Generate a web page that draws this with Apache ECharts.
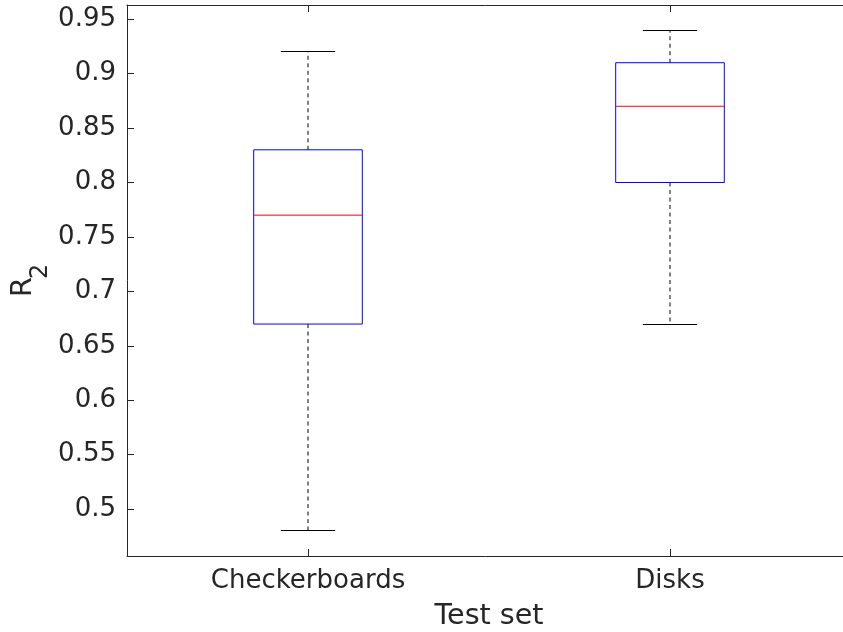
<!DOCTYPE html>
<html>
<head>
<meta charset="utf-8">
<script src="https://cdn.jsdelivr.net/npm/echarts@6/dist/echarts.min.js"></script>
<style>
  html, body { margin: 0; padding: 0; background: #ffffff; }
  #chart { width: 843px; height: 632px; }
</style>
</head>
<body>
<div id="chart"></div>
<script>
// ---- data ----
const categories = ['Checkerboards', 'Disks'];
const lowerWhisker = [0.48, 0.67];
const q1 = [0.67, 0.80];
const median = [0.77, 0.87];
const q3 = [0.83, 0.91];
const upperWhisker = [0.92, 0.94];
const yTickLabels = ['0.5', '0.55', '0.6', '0.65', '0.7', '0.75', '0.8', '0.85', '0.9', '0.95'];
const yRange = [0.457, 0.963];
const xLabel = 'Test set';
const yLabelMain = 'R';
const yLabelSub = '2';

const yTickValues = yTickLabels.map(Number);
const boxData = categories.map((c, i) => [i, lowerWhisker[i], q1[i], median[i], q3[i], upperWhisker[i]]);

const FONT = 'DejaVu Sans';
const TXT = '#262626';
const AX = '#262626';

const chart = echarts.init(document.getElementById('chart'), null, { renderer: 'canvas' });

function crisp(v) { return Math.round(v - 0.5) + 0.5; }

function renderItem(params, api) {
  const idx = api.value(0);
  const band = api.size([1, 0])[0];
  const boxHalf = band * 0.15;
  const capHalf = band * 0.075;
  const pLow = api.coord([idx, api.value(1)]);
  const pQ1 = api.coord([idx, api.value(2)]);
  const pMed = api.coord([idx, api.value(3)]);
  const pQ3 = api.coord([idx, api.value(4)]);
  const pHigh = api.coord([idx, api.value(5)]);
  const cx = pMed[0];
  const dash = { stroke: '#000000', lineWidth: 1, lineDash: [4, 3.5] };
  const solid = { stroke: '#000000', lineWidth: 1 };
  return {
    type: 'group',
    children: [
      { type: 'line', shape: { x1: cx, y1: pQ3[1], x2: cx, y2: pHigh[1] }, style: dash },
      { type: 'line', shape: { x1: cx, y1: pQ1[1], x2: cx, y2: pLow[1] }, style: dash },
      { type: 'line', shape: { x1: cx - capHalf, y1: crisp(pHigh[1]), x2: cx + capHalf, y2: crisp(pHigh[1]) }, style: solid },
      { type: 'line', shape: { x1: cx - capHalf, y1: crisp(pLow[1]), x2: cx + capHalf, y2: crisp(pLow[1]) }, style: solid },
      { type: 'rect', shape: { x: cx - boxHalf, y: pQ3[1], width: boxHalf * 2, height: pQ1[1] - pQ3[1] },
        style: { fill: 'none', stroke: '#0000ff', lineWidth: 1 } },
      { type: 'line', shape: { x1: cx - boxHalf, y1: pMed[1], x2: cx + boxHalf, y2: pMed[1] },
        style: { stroke: '#ff0000', lineWidth: 1 } }
    ]
  };
}

const option = {
  backgroundColor: '#ffffff',
  animation: false,
  grid: { left: 127, top: 5, width: 724, height: 551, containLabel: false, outerBoundsMode: 'none' },
  xAxis: [
    {
      type: 'category',
      data: categories,
      position: 'bottom',
      boundaryGap: true,
      axisLine: { show: true, lineStyle: { color: AX, width: 1 } },
      axisTick: { show: true, inside: true, length: 7, alignWithLabel: true, lineStyle: { color: AX } },
      axisLabel: { show: true, margin: 12, color: TXT, fontFamily: FONT, fontSize: 26 },
      splitLine: { show: false },
      name: xLabel,
      nameLocation: 'middle',
      nameGap: 46,
      nameTextStyle: { color: TXT, fontFamily: FONT, fontSize: 28.6 }
    },
    {
      type: 'category',
      data: categories,
      position: 'top',
      boundaryGap: true,
      axisLine: { show: true, lineStyle: { color: AX, width: 1 } },
      axisTick: { show: true, inside: true, length: 7, alignWithLabel: true, lineStyle: { color: AX } },
      axisLabel: { show: false },
      splitLine: { show: false }
    }
  ],
  yAxis: [
    {
      type: 'value',
      min: yRange[0],
      max: yRange[1],
      position: 'left',
      axisLine: { show: true, onZero: false, lineStyle: { color: AX, width: 1 } },
      axisTick: { show: true, inside: true, length: 7, customValues: yTickValues, lineStyle: { color: AX } },
      axisLabel: {
        show: true, margin: 11, color: TXT, fontFamily: FONT, fontSize: 26,
        customValues: yTickValues,
        formatter: function (v) {
          const i = yTickValues.findIndex(t => Math.abs(t - v) < 1e-9);
          return i >= 0 ? yTickLabels[i] : '';
        }
      },
      splitLine: { show: false }
    }
  ],
  graphic: [
    {
      type: 'text', x: 24, y: 297, rotation: Math.PI / 2,
      style: { text: yLabelMain, fontFamily: FONT, fontSize: 28.6, fill: TXT, align: 'left', verticalAlign: 'middle' }
    },
    {
      type: 'text', x: 40.5, y: 279, rotation: Math.PI / 2,
      style: { text: yLabelSub, fontFamily: FONT, fontSize: 24, fill: TXT, align: 'left', verticalAlign: 'middle' }
    }
  ],
  series: [
    {
      type: 'custom',
      xAxisIndex: 0,
      yAxisIndex: 0,
      renderItem: renderItem,
      encode: { x: 0, y: [1, 2, 3, 4, 5] },
      data: boxData,
      clip: false
    }
  ]
};

chart.setOption(option);
</script>
</body>
</html>
